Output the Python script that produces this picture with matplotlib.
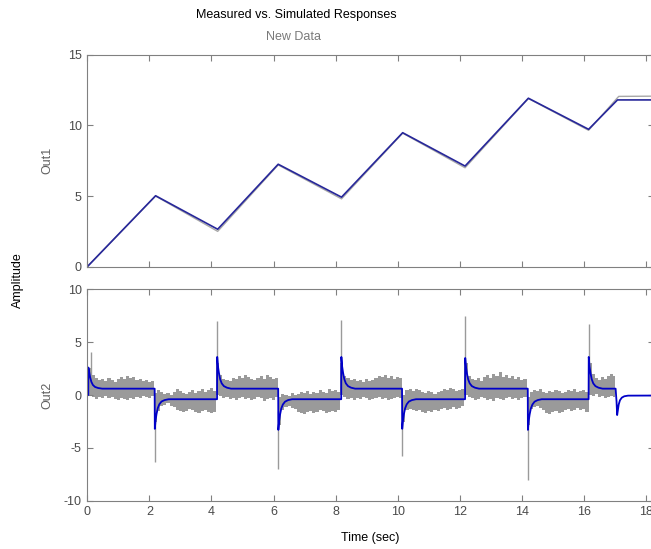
import numpy as np
import matplotlib
matplotlib.use("Agg")
import matplotlib.pyplot as plt

plt.rcParams['font.family'] = ['Liberation Sans', 'DejaVu Sans']
plt.rcParams['axes.unicode_minus'] = False

# Out1 : measured (gray) and simulated (blue) corner points
out1_t_sim = [0.0, 2.2, 4.2, 6.15, 8.19, 10.16, 12.17, 14.21, 16.15, 17.08, 18.5]
out1_y_sim = [0.0, 5.02, 2.65, 7.25, 4.92, 9.48, 7.12, 11.92, 9.72, 11.8, 11.8]
out1_t_meas = [0.0, 2.2, 4.2, 6.15, 8.19, 10.16, 12.17, 14.21, 16.15, 17.12, 18.5]
out1_y_meas = [0.0, 5.0, 2.5, 7.2, 4.8, 9.45, 7.0, 11.9, 9.65, 12.05, 12.07]

# Out2 measured: noise band, one upper/lower value every 0.1 s from 0 to 17.0 s
out2_upper = [
    0.1,
    2.6, 1.9, 1.6, 1.4, 1.5, 1.3, 1.6, 1.4, 1.2, 1.5, 1.7, 1.5, 1.8, 1.6, 1.7, 1.4, 1.5, 1.3, 1.4, 1.2, 1.3,
    0.2, 0.5, 0.3, 0.1, 0.2, 0.0, 0.3, 0.6, 0.4, 0.2, 0.1, 0.3, 0.5, 0.2, 0.4, 0.6, 0.3, 0.5, 0.7, 0.4,
    3.0, 1.9, 1.5, 1.4, 1.3, 1.6, 1.5, 1.8, 1.6, 1.9, 1.7, 1.5, 1.4, 1.6, 1.8, 1.5, 1.9, 1.7, 1.5, 1.6,
    -0.2, 0.1, 0.0, -0.1, 0.2, 0.0, 0.1, 0.3, 0.2, 0.4, 0.1, 0.3, 0.2, 0.5, 0.3, 0.2, 0.6, 0.4, 0.5, 0.3,
    3.0, 1.8, 1.6, 1.4, 1.5, 1.3, 1.4, 1.2, 1.5, 1.3, 1.4, 1.6, 1.8, 1.7, 1.9, 1.6, 1.8, 1.5, 1.7, 1.6,
    0.0, 0.5, 0.6, 0.4, 0.6, 0.5, 0.3, 0.2, 0.4, 0.3, 0.1, 0.3, 0.4, 0.6, 0.5, 0.7, 0.6, 0.4, 0.5, 0.6,
    3.0, 1.8, 1.5, 1.4, 1.6, 1.3, 1.7, 1.9, 1.6, 2.0, 1.8, 2.2, 1.7, 1.9, 1.6, 1.8, 1.5, 1.7, 1.4, 1.5,
    -0.2, 0.3, 0.5, 0.4, 0.6, 0.3, 0.2, 0.4, 0.3, 0.5, 0.4, 0.2, 0.3, 0.5, 0.4, 0.6, 0.3, 0.4, 0.5, 0.3,
    3.0, 2.0, 1.6, 1.4, 1.7, 1.5, 1.8, 2.0, 1.8,
]
out2_lower = [
    -0.05,
    -0.1, -0.2, -0.4, -0.2, -0.3, -0.1, -0.3, -0.2, -0.4, -0.5, -0.3, -0.4, -0.5, -0.3, -0.4, -0.2, -0.3, -0.1, -0.2, -0.3, -0.1,
    -2.6, -1.5, -1.0, -0.9, -0.8, -1.0, -1.1, -1.4, -1.5, -1.6, -1.5, -1.3, -1.4, -1.6, -1.7, -1.5, -1.4, -1.6, -1.7, -1.6,
    0.0, -0.1, -0.3, -0.2, -0.4, -0.3, -0.5, -0.3, -0.2, -0.4, -0.3, -0.5, -0.4, -0.2, -0.3, -0.6, -0.4, -0.3, -0.5, -0.2,
    -2.8, -1.4, -1.1, -1.0, -1.2, -1.3, -1.6, -1.7, -1.8, -1.6, -1.5, -1.7, -1.6, -1.4, -1.5, -1.7, -1.6, -1.5, -1.6, -1.4,
    0.0, -0.2, -0.4, -0.3, -0.5, -0.3, -0.4, -0.2, -0.3, -0.5, -0.4, -0.3, -0.2, -0.4, -0.3, -0.5, -0.4, -0.3, -0.2, -0.3,
    -2.6, -1.4, -1.3, -1.4, -1.5, -1.4, -1.6, -1.7, -1.5, -1.6, -1.4, -1.5, -1.3, -1.2, -1.4, -1.3, -1.1, -1.3, -1.2, -1.0,
    0.0, -0.2, -0.3, -0.5, -0.4, -0.2, -0.3, -0.5, -0.4, -0.6, -0.3, -0.4, -0.5, -0.3, -0.2, -0.4, -0.3, -0.5, -0.3, -0.2,
    -2.8, -1.3, -1.1, -1.0, -1.2, -1.4, -1.7, -1.8, -1.6, -1.5, -1.7, -1.6, -1.4, -1.3, -1.5, -1.4, -1.2, -1.4, -1.3, -1.6,
    0.0, -0.1, 0.1, -0.2, -0.1, -0.3, -0.2, -0.1, -0.2,
]
out2_t_meas = np.arange(len(out2_upper)) * 0.1

# measured spikes at the input switches
spike_t = [0.12, 2.17, 4.18, 6.15, 8.18, 10.14, 12.17, 14.19, 16.15]
spike_base = [0.5, -1.5, 1.5, -1.5, 1.5, -1.5, 1.5, -1.5, 1.5]
spike_peak = [4.1, -6.3, 7.0, -7.0, 7.1, -5.8, 7.5, -8.0, 6.7]

# Out2 simulated (blue)
out2_t_sim = [
    0.0, 0.03, 0.035, 0.06, 0.09, 0.13, 0.18, 0.25, 0.35, 0.48,
    2.17, 2.175, 2.2, 2.23, 2.27, 2.32, 2.39, 2.49, 2.62,
    4.18, 4.185, 4.21, 4.24, 4.28, 4.33, 4.4, 4.5, 4.63,
    6.15, 6.155, 6.18, 6.21, 6.25, 6.3, 6.37, 6.47, 6.6,
    8.18, 8.185, 8.21, 8.24, 8.28, 8.33, 8.4, 8.5, 8.63,
    10.14, 10.145, 10.17, 10.2, 10.24, 10.29, 10.36, 10.46, 10.59,
    12.17, 12.175, 12.2, 12.23, 12.27, 12.32, 12.39, 12.49, 12.62,
    14.19, 14.195, 14.22, 14.25, 14.29, 14.34, 14.41, 14.51, 14.64,
    16.15, 16.155, 16.18, 16.21, 16.25, 16.3, 16.37, 16.47, 16.6,
    17.02, 17.05, 17.07, 17.09, 17.12, 17.16, 17.22, 17.3, 17.42, 18.5,
]
out2_y_sim = [
    0.0, 0.0, 2.6, 2.2, 1.7, 1.25, 0.95, 0.76, 0.66, 0.6,
    0.6, -3.2, -2.4, -1.8, -1.25, -0.88, -0.62, -0.48, -0.4,
    -0.4, 3.6, 2.7, 2.1, 1.5, 1.1, 0.84, 0.69, 0.6,
    0.6, -3.3, -2.45, -1.85, -1.27, -0.9, -0.63, -0.48, -0.4,
    -0.4, 3.6, 2.7, 2.1, 1.5, 1.1, 0.84, 0.69, 0.6,
    0.6, -3.2, -2.4, -1.8, -1.25, -0.88, -0.62, -0.48, -0.4,
    -0.4, 3.5, 2.65, 2.05, 1.48, 1.1, 0.84, 0.69, 0.6,
    0.6, -3.3, -2.45, -1.85, -1.27, -0.9, -0.63, -0.48, -0.4,
    -0.4, 3.6, 2.7, 2.1, 1.5, 1.1, 0.84, 0.69, 0.6,
    0.6, -0.6, -1.9, -1.5, -0.9, -0.5, -0.25, -0.12, -0.06, -0.05,
]

W, H = 651, 549
fig = plt.figure(figsize=(W / 100, H / 100), dpi=100)

left = 87.3 / W
width = (654 - 87.3) / W
xmax = (654 - 87.3) / 31.04
ax1 = fig.add_axes([left, (H - 266.7) / H, width, 212 / H])
ax2 = fig.add_axes([left, (H - 500.7) / H, width, 211.4 / H])

spine_col = '#808080'
tick_col = '#4a4a4a'

ax1.plot(out1_t_meas, out1_y_meas, color='#a8a8a8', lw=1.0)
ax1.plot(out1_t_sim, out1_y_sim, color='#27279a', lw=1.2)
ax1.set_ylim(0, 15)
ax1.set_yticks([0, 5, 10, 15])
ax1.tick_params(labelbottom=False)

ax2.fill_between(out2_t_meas, out2_lower, out2_upper, step='mid',
                 color='#9a9a9a', lw=0)
ax2.vlines(spike_t, spike_base, spike_peak, color='#9a9a9a', lw=1.0)
ax2.plot(out2_t_sim, out2_y_sim, color='#0000c8', lw=1.3)
ax2.set_ylim(-10, 10)
ax2.set_yticks([-10, -5, 0, 5, 10])

for ax in (ax1, ax2):
    ax.set_xlim(0, xmax)
    ax.set_xticks(range(0, 20, 2))
    ax.tick_params(direction='in', length=4, width=0.8, top=True, right=True,
                   colors=spine_col, labelcolor=tick_col, labelsize=9, pad=4)
    for s in ax.spines.values():
        s.set_color(spine_col)
        s.set_linewidth(0.8)

fig.text(296 / W, 1 - 15 / H, 'Measured vs. Simulated Responses',
         ha='center', va='center', fontsize=9, color='black')
fig.text(293 / W, 1 - 37 / H, 'New Data', ha='center', va='center',
         fontsize=9, color='#7a7a7a')
fig.text(47 / W, 1 - 160 / H, 'Out1', rotation=90, ha='center', va='center',
         fontsize=9, color='#606060')
fig.text(47 / W, 1 - 395 / H, 'Out2', rotation=90, ha='center', va='center',
         fontsize=9, color='#606060')
fig.text(18 / W, 1 - 280 / H, 'Amplitude', rotation=90, ha='center',
         va='center', fontsize=9, color='black')
fig.text(370 / W, 1 - 538 / H, 'Time (sec)', ha='center', va='center',
         fontsize=9, color='black')

fig.savefig('out.png', dpi=100)
